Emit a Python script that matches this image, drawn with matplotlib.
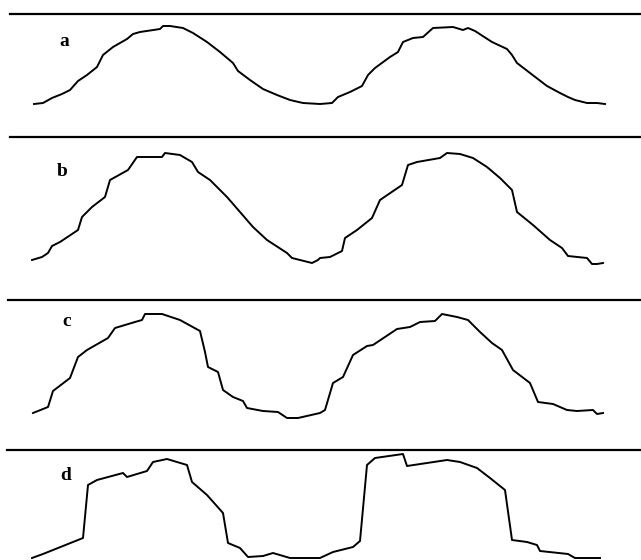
import numpy as np
import matplotlib
matplotlib.use("Agg")
import matplotlib.pyplot as plt

# time axis (sample positions) and amplitude for each trace
t_a = [34, 43, 52, 62, 70, 78, 87, 97, 103, 113, 127, 133, 140, 160, 163, 170, 183, 193, 207, 220,
       233, 238, 250, 263, 277, 290, 303, 320, 332, 338, 350, 362, 368, 375, 390, 398, 403, 413, 423, 433,
       453, 463, 468, 475, 492, 507, 512, 517, 530, 547, 560, 568, 575, 587, 597, 605]
amp_a = [33, 34, 39, 43, 47, 56, 62, 70, 82, 90, 98, 103, 105, 108, 111, 111, 109, 104, 95, 85,
         74, 66, 57, 48, 42, 37, 34, 33, 34, 40, 45, 51, 62, 69, 80, 85, 95, 99, 100, 109,
         110, 107, 109, 106, 95, 88, 82, 74, 64, 51, 44, 40, 37, 34, 34, 33]

t_b = [32, 42, 48, 52, 60, 78, 82, 92, 105, 110, 128, 137, 162, 165, 180, 192, 198, 210, 227, 240,
       253, 267, 287, 292, 312, 318, 320, 330, 342, 345, 357, 372, 380, 402, 408, 417, 440, 447, 460, 473,
       487, 500, 512, 517, 533, 550, 562, 568, 587, 592, 597, 603]
amp_b = [40, 43, 47, 54, 58, 70, 83, 93, 103, 120, 130, 143, 143, 147, 145, 138, 128, 120, 103, 88,
         73, 60, 47, 42, 37, 40, 42, 43, 49, 62, 70, 82, 100, 115, 135, 138, 142, 147, 146, 142,
         133, 122, 110, 88, 75, 60, 52, 44, 42, 36, 36, 37]

t_c = [33, 48, 53, 70, 78, 87, 108, 115, 135, 142, 145, 162, 180, 200, 205, 208, 218, 223, 233, 243,
       247, 263, 278, 287, 298, 320, 325, 333, 343, 353, 367, 373, 397, 410, 420, 435, 442, 457, 468, 480,
       492, 502, 513, 530, 538, 553, 567, 577, 593, 597, 603]
amp_c = [37, 43, 59, 72, 93, 100, 112, 122, 128, 130, 136, 136, 130, 119, 98, 83, 78, 60, 53, 49,
         42, 39, 38, 32, 32, 37, 40, 67, 73, 95, 104, 105, 121, 123, 128, 129, 136, 133, 130, 118,
         107, 100, 80, 67, 48, 46, 40, 39, 40, 36, 37]

t_d = [32, 43, 83, 88, 97, 123, 127, 147, 153, 167, 187, 192, 207, 223, 228, 240, 248, 263, 273, 290,
       320, 333, 353, 360, 367, 375, 403, 407, 427, 447, 460, 477, 490, 505, 512, 527, 537, 540, 568, 575,
       587, 600]
amp_d = [2, 6, 22, 75, 80, 87, 83, 89, 98, 101, 95, 78, 65, 47, 17, 12, 3, 4, 7, 2,
         2, 8, 13, 19, 95, 102, 106, 94, 97, 100, 98, 92, 82, 70, 20, 18, 15, 9, 6, 2,
         2, 2]

labels = ["a", "b", "c", "d"]

W, H = 641, 560
# panel top / bottom in pixels, where the separator line starts, label position
panels = [
    (14, 137, 10, (64, 95), t_a, amp_a),
    (137, 300, 10, (62, 128), t_b, amp_b),
    (300, 450, 8, (67, 128), t_c, amp_c),
    (450, 560, 7, (66, 85), t_d, amp_d),
]

fig = plt.figure(figsize=(W / 100, H / 100), dpi=100)

for i, (top, bot, x0, lab_pos, t, amp) in enumerate(panels):
    h = bot - top
    ax = fig.add_axes([0, 1 - bot / H, 1, h / H])
    ax.set_xlim(0, W)
    ax.set_ylim(0, h)
    ax.axis("off")
    ax.axhline(h, xmin=x0 / W, xmax=1, color="black", lw=1.6, clip_on=False)
    ax.plot(t, amp, color="black", lw=1.4, clip_on=False)
    ax.text(lab_pos[0], lab_pos[1], labels[i], ha="center", va="center",
            fontsize=14, fontweight="bold", family="Liberation Serif")

fig.savefig("out.png", dpi=100)
